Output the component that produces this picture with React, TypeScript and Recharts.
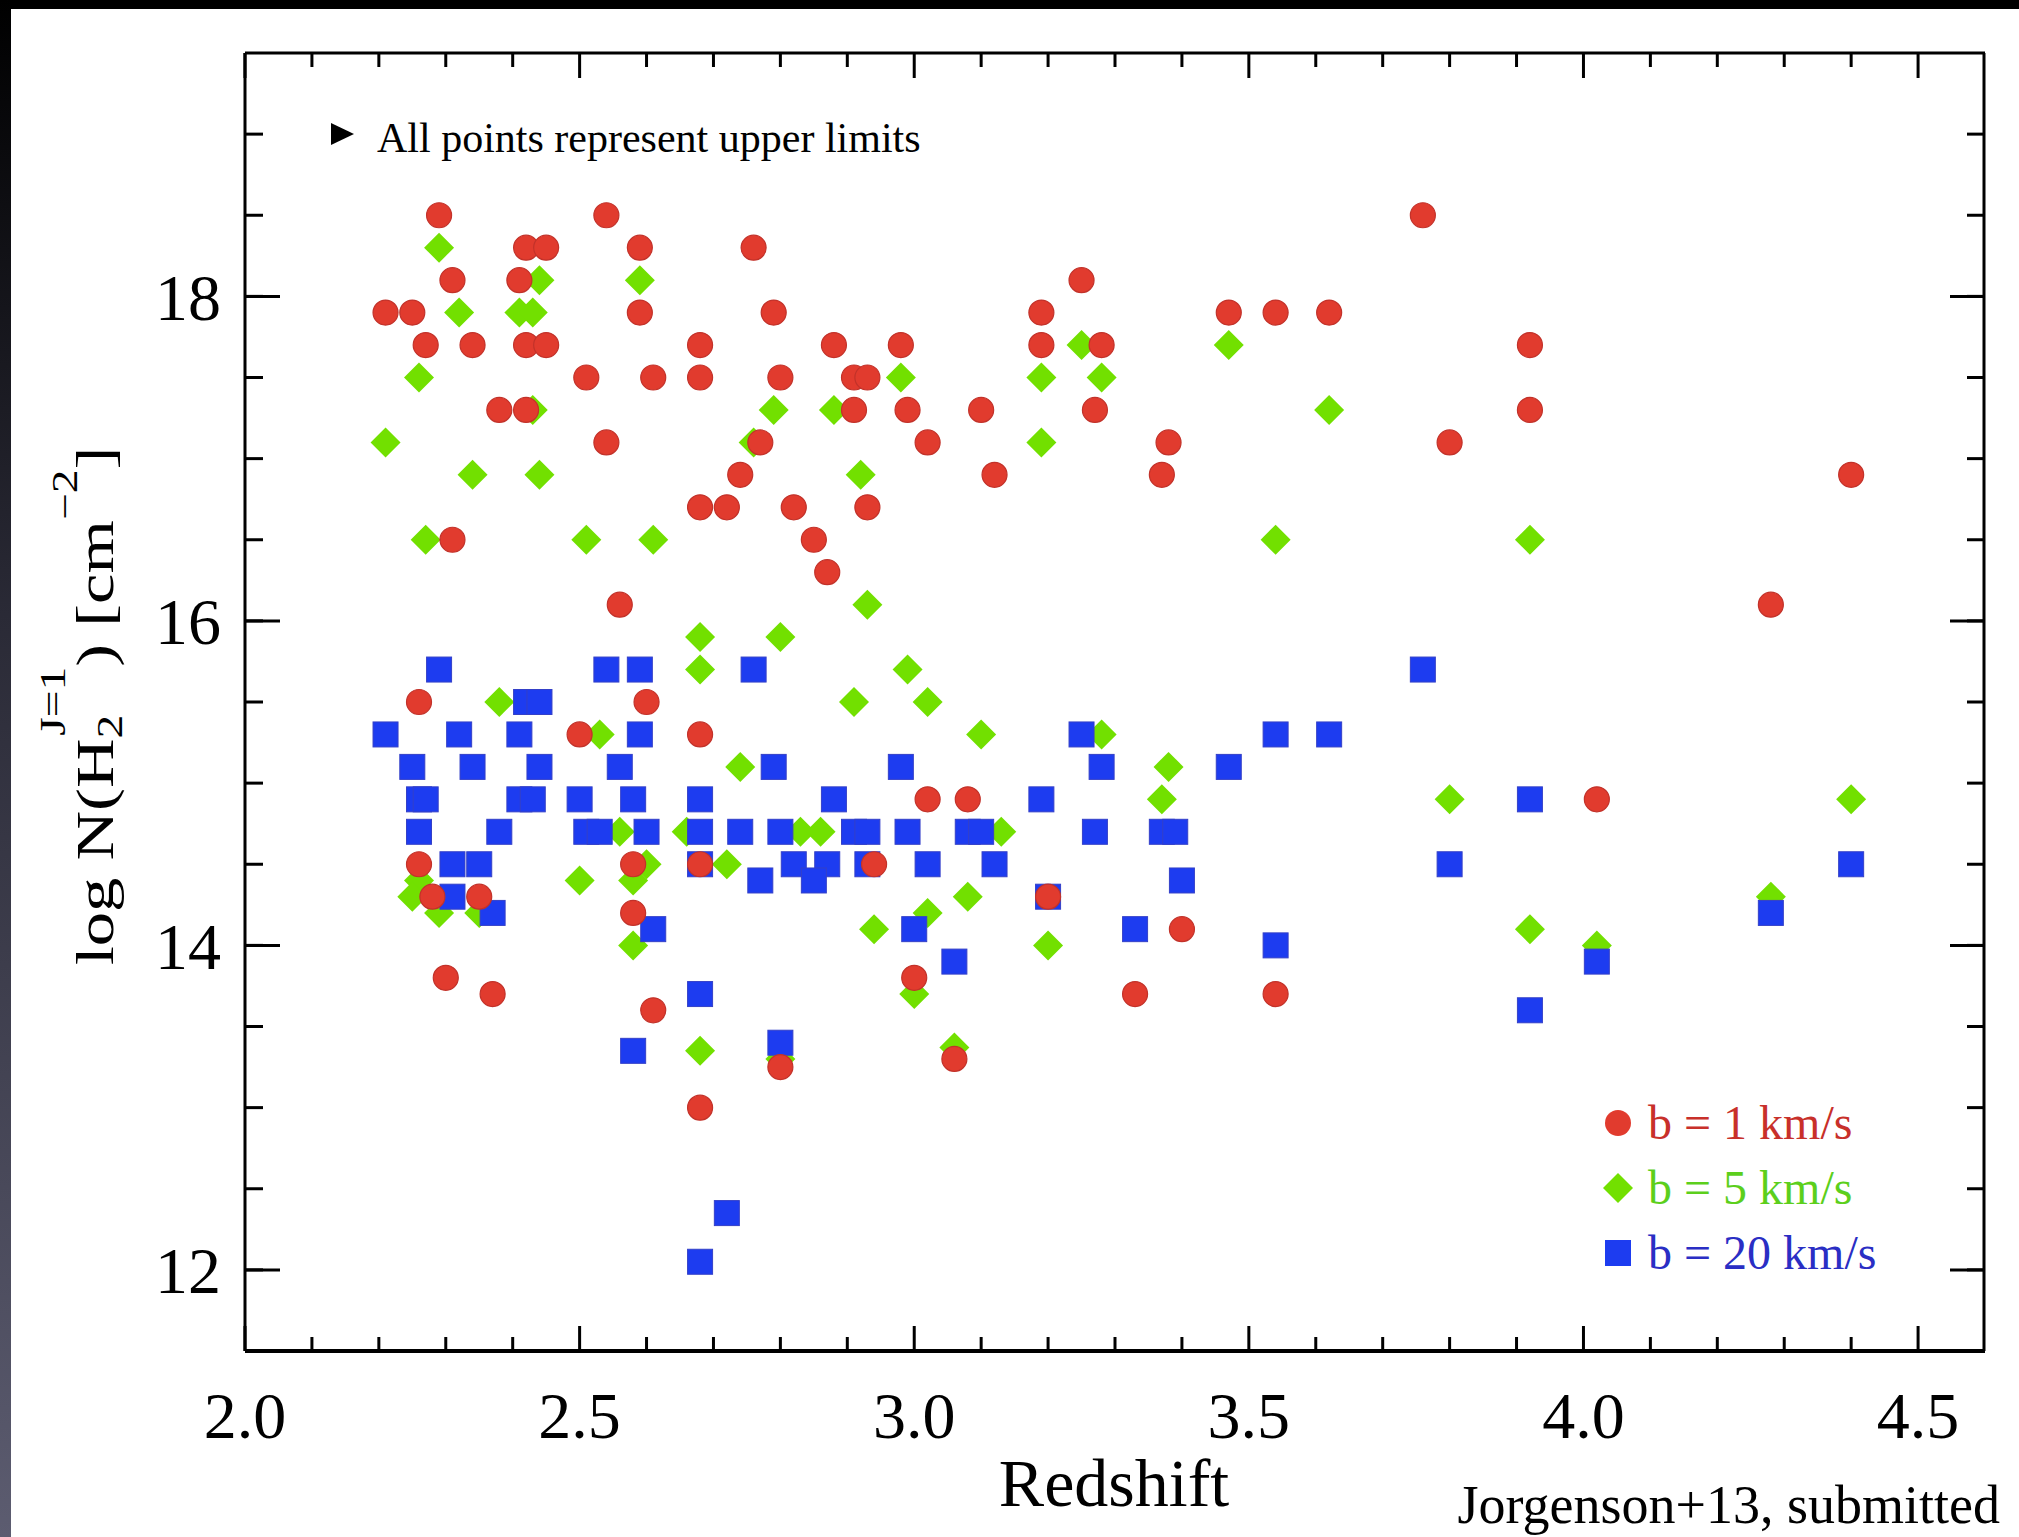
import { ScatterChart, Scatter, XAxis, YAxis, Legend } from "recharts";

const W = 2019;
const H = 1537;
const SERIF = '"Liberation Serif", "Times New Roman", serif';

// layout: margins + axis sizes fix the plot box at y 53..1351, x 245..1985
const MARGIN = { top: 52, right: 34, bottom: 86, left: 0 };
const X_AXIS_H = 100;
const TOP_AXIS_H = 1;
const PLOT_H = H - MARGIN.top - TOP_AXIS_H - MARGIN.bottom - X_AXIS_H;

const REDSHIFT_DOMAIN: [number, number] = [2.0, 4.6];
const LOGN_DOMAIN: [number, number] = [11.5, 19.5];
const X_MAJOR = [2.0, 2.5, 3.0, 3.5, 4.0, 4.5];
const X_TICKS = [2.0, 2.1, 2.2, 2.3, 2.4, 2.5, 2.6, 2.7, 2.8, 2.9, 3.0, 3.1, 3.2, 3.3, 3.4, 3.5, 3.6, 3.7, 3.8, 3.9, 4.0, 4.1, 4.2, 4.3, 4.4, 4.5];
const Y_MAJOR = [12, 14, 16, 18];
const Y_MINOR = [12, 12.5, 13, 13.5, 14, 14.5, 15, 15.5, 16, 16.5, 17, 17.5, 18, 18.5, 19];

// [redshift, log N] pairs
const B1_POINTS: [number, number][] = [
  [2.29, 18.5], [2.54, 18.5], [3.76, 18.5],
  [2.42, 18.3], [2.45, 18.3], [2.59, 18.3], [2.76, 18.3],
  [2.31, 18.1], [2.41, 18.1], [3.25, 18.1],
  [2.21, 17.9], [2.25, 17.9], [2.59, 17.9], [2.79, 17.9], [3.19, 17.9], [3.47, 17.9], [3.54, 17.9], [3.62, 17.9],
  [2.27, 17.7], [2.34, 17.7], [2.42, 17.7], [2.45, 17.7], [2.68, 17.7], [2.88, 17.7], [2.98, 17.7], [3.19, 17.7], [3.28, 17.7], [3.92, 17.7],
  [2.51, 17.5], [2.61, 17.5], [2.68, 17.5], [2.8, 17.5], [2.91, 17.5], [2.93, 17.5],
  [2.38, 17.3], [2.42, 17.3], [2.91, 17.3], [2.99, 17.3], [3.1, 17.3], [3.27, 17.3], [3.92, 17.3],
  [2.54, 17.1], [2.77, 17.1], [3.02, 17.1], [3.38, 17.1], [3.8, 17.1],
  [2.74, 16.9], [3.12, 16.9], [3.37, 16.9], [4.4, 16.9],
  [2.68, 16.7], [2.72, 16.7], [2.82, 16.7], [2.93, 16.7],
  [2.31, 16.5], [2.85, 16.5],
  [2.87, 16.3],
  [2.56, 16.1], [4.28, 16.1],
  [2.26, 15.5], [2.6, 15.5],
  [2.5, 15.3], [2.68, 15.3],
  [3.02, 14.9], [3.08, 14.9], [4.02, 14.9],
  [2.26, 14.5], [2.58, 14.5], [2.68, 14.5], [2.94, 14.5],
  [2.28, 14.3], [2.35, 14.3], [3.2, 14.3],
  [2.58, 14.2],
  [3.4, 14.1],
  [2.3, 13.8], [3.0, 13.8],
  [2.37, 13.7], [3.33, 13.7], [3.54, 13.7],
  [2.61, 13.6],
  [3.06, 13.3],
  [2.8, 13.25],
  [2.68, 13.0],
];

const B5_POINTS: [number, number][] = [
  [2.29, 18.3],
  [2.44, 18.1], [2.59, 18.1],
  [2.32, 17.9], [2.41, 17.9], [2.43, 17.9],
  [3.25, 17.7], [3.47, 17.7],
  [2.26, 17.5], [2.98, 17.5], [3.19, 17.5], [3.28, 17.5],
  [2.43, 17.3], [2.79, 17.3], [2.88, 17.3], [3.62, 17.3],
  [2.21, 17.1], [2.76, 17.1], [3.19, 17.1],
  [2.34, 16.9], [2.44, 16.9], [2.92, 16.9],
  [2.27, 16.5], [2.51, 16.5], [2.61, 16.5], [3.54, 16.5], [3.92, 16.5],
  [2.93, 16.1],
  [2.68, 15.9], [2.8, 15.9],
  [2.68, 15.7], [2.99, 15.7],
  [2.38, 15.5], [2.91, 15.5], [3.02, 15.5],
  [2.53, 15.3], [3.1, 15.3], [3.28, 15.3],
  [2.74, 15.1], [3.38, 15.1],
  [3.37, 14.9], [3.8, 14.9], [4.4, 14.9],
  [2.56, 14.7], [2.66, 14.7], [2.83, 14.7], [2.86, 14.7], [3.13, 14.7],
  [2.6, 14.5], [2.72, 14.5],
  [2.26, 14.4], [2.5, 14.4], [2.58, 14.4],
  [2.25, 14.3], [3.08, 14.3], [4.28, 14.3],
  [2.29, 14.2], [2.35, 14.2], [3.02, 14.2],
  [2.94, 14.1], [3.92, 14.1],
  [2.58, 14.0], [3.2, 14.0], [4.02, 14.0],
  [3.0, 13.7],
  [3.06, 13.37],
  [2.68, 13.35],
  [2.8, 13.3],
];

const B20_POINTS: [number, number][] = [
  [2.29, 15.7], [2.54, 15.7], [2.59, 15.7], [2.76, 15.7], [3.76, 15.7],
  [2.42, 15.5], [2.44, 15.5],
  [2.21, 15.3], [2.32, 15.3], [2.41, 15.3], [2.59, 15.3], [3.25, 15.3], [3.54, 15.3], [3.62, 15.3],
  [2.25, 15.1], [2.34, 15.1], [2.44, 15.1], [2.56, 15.1], [2.79, 15.1], [2.98, 15.1], [3.28, 15.1], [3.47, 15.1],
  [2.26, 14.9], [2.27, 14.9], [2.41, 14.9], [2.43, 14.9], [2.5, 14.9], [2.58, 14.9], [2.68, 14.9], [2.88, 14.9], [3.19, 14.9], [3.92, 14.9],
  [2.26, 14.7], [2.38, 14.7], [2.51, 14.7], [2.53, 14.7], [2.6, 14.7], [2.68, 14.7], [2.74, 14.7], [2.8, 14.7],
  [2.91, 14.7], [2.93, 14.7], [2.99, 14.7], [3.08, 14.7], [3.1, 14.7], [3.27, 14.7], [3.37, 14.7], [3.39, 14.7],
  [2.31, 14.5], [2.35, 14.5], [2.68, 14.5], [2.82, 14.5], [2.87, 14.5], [2.93, 14.5], [3.02, 14.5], [3.12, 14.5], [3.8, 14.5], [4.4, 14.5],
  [2.77, 14.4], [2.85, 14.4], [3.4, 14.4],
  [2.31, 14.3], [3.2, 14.3],
  [2.37, 14.2], [4.28, 14.2],
  [2.61, 14.1], [3.0, 14.1], [3.33, 14.1],
  [3.54, 14.0],
  [3.06, 13.9], [4.02, 13.9],
  [2.68, 13.7],
  [3.92, 13.6],
  [2.8, 13.4],
  [2.58, 13.35],
  [2.72, 12.35],
  [2.68, 12.05],
];

const RED = "#e13b2e";
const GREEN = "#72e000";
const BLUE = "#1d3cf0";

const toRows = (pts: [number, number][]) => pts.map(([z, n]) => ({ z, n }));

const circleShape = (p: any) => (
  <circle cx={p.cx} cy={p.cy} r={12.5} fill={RED} stroke="#c2322a" strokeWidth={1.2} />
);
const diamondShape = (p: any) => (
  <polygon
    points={`${p.cx},${p.cy - 15} ${p.cx + 15},${p.cy} ${p.cx},${p.cy + 15} ${p.cx - 15},${p.cy}`}
    fill={GREEN}
  />
);
const squareShape = (p: any) => (
  <rect x={p.cx - 12.5} y={p.cy - 12.5} width={25} height={25} fill={BLUE} stroke="#3440c8" strokeWidth={1} />
);

const LEGEND_ITEMS = [
  { name: "b = 1 km/s", color: RED, text: "#c8302a", marker: "circle" },
  { name: "b = 5 km/s", color: GREEN, text: "#5ccf1c", marker: "diamond" },
  { name: "b = 20 km/s", color: BLUE, text: "#2a2ec4", marker: "square" },
];

const LegendBox = () => (
  <div style={{ fontFamily: SERIF, fontSize: 48 }}>
    {LEGEND_ITEMS.map((it) => (
      <div key={it.name} style={{ display: "flex", alignItems: "center", height: 65, lineHeight: "65px" }}>
        <svg width={30} height={30} style={{ marginRight: 15 }}>
          {it.marker === "circle" && <circle cx={15} cy={15} r={13} fill={it.color} />}
          {it.marker === "diamond" && <polygon points="15,0 30,15 15,30 0,15" fill={it.color} />}
          {it.marker === "square" && <rect x={2} y={2} width={26} height={26} fill={it.color} />}
        </svg>
        <span style={{ color: it.text, whiteSpace: "nowrap" }}>{it.name}</span>
      </div>
    ))}
  </div>
);

const tickLine = { stroke: "#000", strokeWidth: 3 };
const frame = { stroke: "#000", strokeWidth: 3 };
const NoLabel = () => <g />;

// x ticks point into the plot from both the bottom and the top edge;
// tickSize/tickMargin are 0 so p.y sits on the bottom axis line
const XTick = (p: any) => {
  const v = p.payload.value;
  const major = X_MAJOR.includes(v);
  const len = major ? 25 : 14;
  const top = p.y - PLOT_H;
  return (
    <g>
      <line x1={p.x} x2={p.x} y1={p.y} y2={p.y - len} stroke="#000" strokeWidth={3} />
      <line x1={p.x} x2={p.x} y1={top} y2={top + len} stroke="#000" strokeWidth={3} />
      {major && (
        <text x={p.x} y={p.y + 87} textAnchor="middle" fontSize={66} fontFamily={SERIF} fill="#000">
          {v.toFixed(1)}
        </text>
      )}
    </g>
  );
};

export default function App() {
  return (
    <div style={{ position: "absolute", left: 0, top: 0, width: W, height: H, background: "#fff", overflow: "hidden" }}>
      <ScatterChart width={W} height={H} margin={MARGIN}>
        <XAxis
          xAxisId="x" type="number" dataKey="z" domain={REDSHIFT_DOMAIN} allowDataOverflow
          ticks={X_TICKS} interval={0} height={X_AXIS_H}
          tickLine={false} tickSize={0} tickMargin={0} axisLine={{ stroke: "#000", strokeWidth: 4 }}
          tick={XTick}
        />
        <XAxis
          xAxisId="xt" orientation="top" type="number" domain={REDSHIFT_DOMAIN} allowDataOverflow
          ticks={X_MAJOR} interval={0} height={TOP_AXIS_H}
          tickLine={false} tickSize={0} tickMargin={0} axisLine={frame}
          tick={NoLabel}
        />
        <YAxis
          yAxisId="y" type="number" dataKey="n" domain={LOGN_DOMAIN} allowDataOverflow
          ticks={Y_MAJOR} interval={0} width={245}
          tickLine={false} axisLine={frame} tickMargin={18}
          tick={{ fontSize: 66, fill: "#000", fontFamily: SERIF }}
        />
        {/* inward y ticks on both sides (mirrored, 1px wide axes) */}
        <YAxis yAxisId="ylMin" orientation="left" mirror width={1} type="number" domain={LOGN_DOMAIN} allowDataOverflow
          ticks={Y_MINOR} interval={0} tick={NoLabel} axisLine={false} tickSize={17} tickLine={tickLine} />
        <YAxis yAxisId="ylMaj" orientation="left" mirror width={1} type="number" domain={LOGN_DOMAIN} allowDataOverflow
          ticks={Y_MAJOR} interval={0} tick={NoLabel} axisLine={false} tickSize={35} tickLine={tickLine} />
        <YAxis yAxisId="yrMin" orientation="right" mirror width={1} type="number" domain={LOGN_DOMAIN} allowDataOverflow
          ticks={Y_MINOR} interval={0} tick={NoLabel} axisLine={frame} tickSize={17} tickLine={tickLine} />
        <YAxis yAxisId="yrMaj" orientation="right" mirror width={1} type="number" domain={LOGN_DOMAIN} allowDataOverflow
          ticks={Y_MAJOR} interval={0} tick={NoLabel} axisLine={false} tickSize={35} tickLine={tickLine} />

        <Scatter name="b = 5 km/s" xAxisId="x" yAxisId="y" data={toRows(B5_POINTS)} fill={GREEN} shape={diamondShape} isAnimationActive={false} />
        <Scatter name="b = 20 km/s" xAxisId="x" yAxisId="y" data={toRows(B20_POINTS)} fill={BLUE} shape={squareShape} isAnimationActive={false} />
        <Scatter name="b = 1 km/s" xAxisId="x" yAxisId="y" data={toRows(B1_POINTS)} fill={RED} shape={circleShape} isAnimationActive={false} />

        <Legend
          layout="vertical" align="center" verticalAlign="middle"
          wrapperStyle={{ left: 1603, top: 1090, width: 400, height: 200 }}
          content={() => <LegendBox />}
        />
      </ScatterChart>

      {/* titles and notes */}
      <svg width={W} height={H} style={{ position: "absolute", left: 0, top: 0, pointerEvents: "none" }}>
        <polygon points="331,123 354,134 331,145" fill="#000" />
        <text x={377} y={152} fontSize={42} fontFamily={SERIF} fill="#000">All points represent upper limits</text>
        <text x={1114} y={1506} fontSize={68} fontFamily={SERIF} fill="#000" textAnchor="middle">Redshift</text>
        <text x={2000} y={1523} fontSize={54} fontFamily={SERIF} fill="#000" textAnchor="end">Jorgenson+13, submitted</text>
        <text transform="translate(113,706) rotate(-90) scale(1.32,1)" fontSize={52} fontFamily={SERIF} fill="#000" textAnchor="middle">
          log N(H
          <tspan fontSize={36} dy={9}>2</tspan>
          <tspan fontSize={36} dx={-16} dy={-57}>J=1</tspan>
          <tspan dy={48}>)</tspan>
          <tspan>{"\u00a0[cm"}</tspan>
          <tspan fontSize={36} dy={-36}>{"\u22122"}</tspan>
          <tspan dy={36}>]</tspan>
        </text>
      </svg>

      <div style={{ position: "absolute", left: 0, top: 0, width: W, height: 9, background: "#000" }} />
      <div style={{ position: "absolute", left: 0, top: 0, width: 11, height: H, background: "linear-gradient(#000 0%, #2a2a36 40%, #5c5c70 100%)" }} />
    </div>
  );
}
